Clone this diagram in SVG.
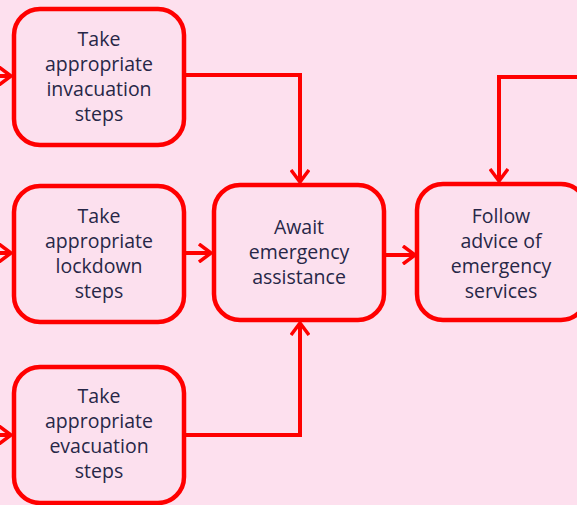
<svg xmlns="http://www.w3.org/2000/svg" width="577" height="505" viewBox="0 0 577 505">
<defs>
<marker id="arr" viewBox="0 0 14 20" refX="13" refY="10" markerWidth="14" markerHeight="20" markerUnits="userSpaceOnUse" orient="auto">
<path d="M1,1 L13,10 L1,19" fill="none" stroke="#ff0000" stroke-width="3.5" stroke-linejoin="miter"/>
</marker>
<style>
.box{fill:#fce0ee;stroke:#ff0000;stroke-width:4.5}
.t{font-family:"Open Sans","Liberation Sans",sans-serif;font-size:19.5px;fill:#272747;text-anchor:middle}
.c{fill:none;stroke:#ff0000;stroke-width:4}
</style>
</defs>
<rect width="577" height="505" fill="#fde0ee"/>
<g id="connectors">
<path class="c" d="M0,76 L11,76" marker-end="url(#arr)"/>
<path class="c" d="M0,253 L11,253" marker-end="url(#arr)"/>
<path class="c" d="M0,435 L11,435" marker-end="url(#arr)"/>
<path class="c" d="M185,75 L300,75 L300,182" marker-end="url(#arr)"/>
<path class="c" d="M185,253 L211,253" marker-end="url(#arr)"/>
<path class="c" d="M181,435 L300,435 L300,323" marker-end="url(#arr)"/>
<path class="c" d="M385,255 L415,255" marker-end="url(#arr)"/>
<path class="c" d="M577,77 L499,77 L499,181" marker-end="url(#arr)"/>
</g>
<g id="n1">
<rect class="box" x="14" y="9" width="170" height="136" rx="26"/>
<text class="t" x="99" y="46">Take</text>
<text class="t" x="99" y="71">appropriate</text>
<text class="t" x="99" y="96">invacuation</text>
<text class="t" x="99" y="121">steps</text>
</g>
<g id="n2">
<rect class="box" x="14" y="186" width="170" height="136" rx="26"/>
<text class="t" x="99" y="223">Take</text>
<text class="t" x="99" y="248">appropriate</text>
<text class="t" x="99" y="273">lockdown</text>
<text class="t" x="99" y="298">steps</text>
</g>
<g id="n3">
<rect class="box" x="14" y="367" width="170" height="136" rx="26"/>
<text class="t" x="99" y="403">Take</text>
<text class="t" x="99" y="428">appropriate</text>
<text class="t" x="99" y="453">evacuation</text>
<text class="t" x="99" y="478">steps</text>
</g>
<g id="n4">
<rect class="box" x="214" y="185" width="170" height="135" rx="26"/>
<text class="t" x="299" y="234">Await</text>
<text class="t" x="299" y="259">emergency</text>
<text class="t" x="299" y="284">assistance</text>
</g>
<g id="n5">
<rect class="box" x="417" y="184" width="170" height="136" rx="26"/>
<text class="t" x="501" y="223">Follow</text>
<text class="t" x="501" y="248">advice of</text>
<text class="t" x="501" y="273">emergency</text>
<text class="t" x="501" y="298">services</text>
</g>
</svg>
